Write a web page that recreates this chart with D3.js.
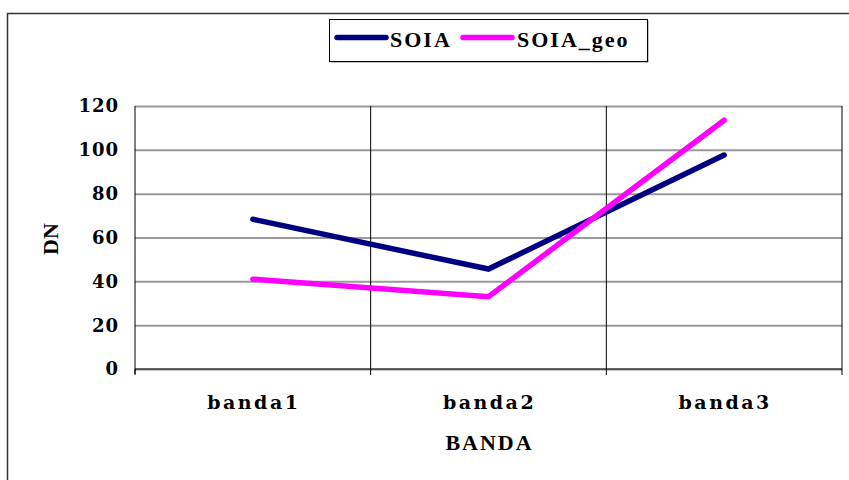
<!DOCTYPE html>
<html>
<head>
<meta charset="utf-8">
<script src="https://cdn.jsdelivr.net/npm/d3@7"></script>
<style>
  html, body { margin: 0; padding: 0; background: #fff; }
  svg { display: block; }
  text { font-family: "Liberation Serif", "DejaVu Serif", serif; font-weight: bold; fill: #000; }
</style>
</head>
<body>
<svg id="chart" width="849" height="480"></svg>
<script>
// Band categories and DN values per series
const categories = ["banda1", "banda2", "banda3"];
const soia = [68.3, 45.6, 97.6];
const soiaGeo = [41, 33, 113.5];
const yTicks = [0, 20, 40, 60, 80, 100, 120];
const seriesNames = ["SOIA", "SOIA_geo"];
const seriesColors = ["#000080", "#ff00ff"];

const svg = d3.select("#chart");
const W = 849, H = 480;
const plot = { left: 135, right: 842, top: 106, bottom: 369 };

// Chart area frame
svg.append("rect")
  .attr("x", 7.5).attr("y", 13.5)
  .attr("width", W + 10).attr("height", H + 10)
  .attr("fill", "#fff").attr("stroke", "#333").attr("stroke-width", 1.5);

const x = d3.scaleBand().domain(categories).range([plot.left, plot.right]).padding(0);
const y = d3.scaleLinear().domain([0, 120]).range([plot.bottom, plot.top]);

// Horizontal gridlines
svg.append("g")
  .attr("transform", `translate(${plot.left},0)`)
  .call(d3.axisLeft(y).tickValues(yTicks).tickSize(-(plot.right - plot.left)).tickFormat(""))
  .call(g => g.select(".domain").remove())
  .call(g => g.selectAll(".tick line").attr("stroke", "#999").attr("stroke-width", 2));

// Vertical gridlines at category boundaries
const boundaries = categories.map(c => x(c)).concat([plot.right]);
svg.append("g").selectAll("line")
  .data(boundaries.slice(1))
  .join("line")
  .attr("x1", d => d).attr("x2", d => d)
  .attr("y1", plot.top).attr("y2", plot.bottom)
  .attr("stroke", "#000").attr("stroke-width", 1);

// Value axis line
svg.append("line")
  .attr("x1", plot.left).attr("x2", plot.left)
  .attr("y1", plot.top).attr("y2", plot.bottom + 5)
  .attr("stroke", "#000").attr("stroke-width", 1);

// Category axis line with boundary ticks
svg.append("line")
  .attr("x1", plot.left).attr("x2", plot.right)
  .attr("y1", plot.bottom).attr("y2", plot.bottom)
  .attr("stroke", "#000").attr("stroke-width", 1.2);
svg.append("g").selectAll("line")
  .data(boundaries)
  .join("line")
  .attr("x1", d => d).attr("x2", d => d)
  .attr("y1", plot.bottom).attr("y2", plot.bottom + 6)
  .attr("stroke", "#000").attr("stroke-width", 1);

// Y tick labels
svg.append("g").selectAll("text")
  .data(yTicks)
  .join("text")
  .attr("x", 119).attr("y", d => y(d))
  .attr("dy", "0.36em")
  .attr("text-anchor", "end")
  .style("font-family", "'DejaVu Serif', serif")
  .style("font-size", "18px")
  .style("letter-spacing", "1px")
  .text(d => d);

// Category labels
svg.append("g").selectAll("text")
  .data(categories)
  .join("text")
  .attr("x", d => x(d) + x.bandwidth() / 2 + 1)
  .attr("y", 409)
  .attr("text-anchor", "middle")
  .style("font-family", "'DejaVu Serif', serif")
  .style("font-size", "19px")
  .style("letter-spacing", "2.5px")
  .text(d => d);

// Axis titles
svg.append("text")
  .attr("x", 489.5).attr("y", 450)
  .attr("text-anchor", "middle")
  .style("font-size", "22px")
  .style("letter-spacing", "2px")
  .text("BANDA");
svg.append("text")
  .attr("transform", "translate(58,239) rotate(-90)")
  .attr("text-anchor", "middle")
  .style("font-size", "22px")
  .text("DN");

// Series lines
const line = d3.line()
  .x((d, i) => x(categories[i]) + x.bandwidth() / 2)
  .y(d => y(d));
[soia, soiaGeo].forEach((vals, i) => {
  svg.append("path")
    .datum(vals)
    .attr("d", line)
    .attr("fill", "none")
    .attr("stroke", seriesColors[i])
    .attr("stroke-width", 5.5)
    .attr("stroke-linecap", "round")
    .attr("stroke-linejoin", "miter");
});

// Legend
const legend = svg.append("g");
legend.append("rect")
  .attr("x", 330.5).attr("y", 20.5).attr("width", 318).attr("height", 42)
  .attr("fill", "#888");
legend.append("rect")
  .attr("x", 329.5).attr("y", 19.5).attr("width", 318).attr("height", 42)
  .attr("fill", "#fff").attr("stroke", "#000").attr("stroke-width", 1);
const legendItems = [
  { x1: 337, x2: 386, tx: 390 },
  { x1: 463, x2: 512, tx: 517 }
];
legendItems.forEach((it, i) => {
  legend.append("line")
    .attr("x1", it.x1).attr("x2", it.x2).attr("y1", 37.5).attr("y2", 37.5)
    .attr("stroke", seriesColors[i]).attr("stroke-width", 5.5)
    .attr("stroke-linecap", "round");
  legend.append("text")
    .attr("x", it.tx).attr("y", 47)
    .style("font-size", "22px")
    .style("letter-spacing", "2px")
    .text(seriesNames[i]);
});
</script>
</body>
</html>
